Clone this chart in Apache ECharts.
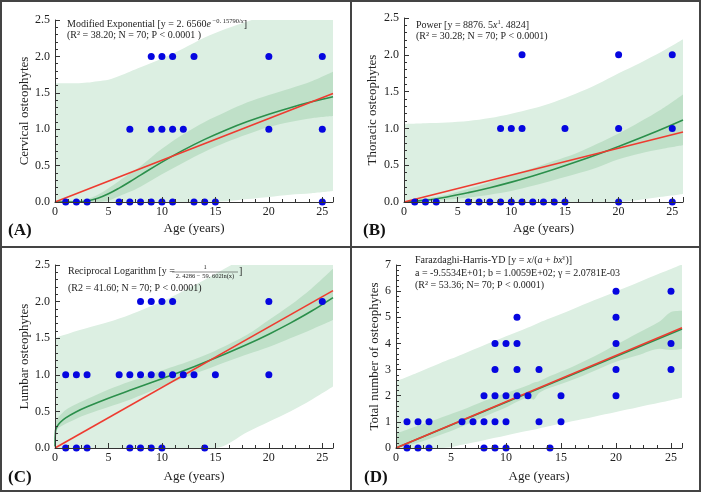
<!DOCTYPE html>
<html>
<head>
<meta charset="utf-8">
<script src="https://cdn.jsdelivr.net/npm/echarts@6/dist/echarts.min.js"></script>
<style>
  html, body { margin: 0; padding: 0; background: #fff; }
  #chart { width: 702px; height: 496px; }
</style>
</head>
<body>
<div id="chart"></div>
<script>
// ---- observed points [age, count] ----
const cervicalPts = [[1,0],[2,0],[3,0],[6,0],[7,0],[8,0],[9,0],[10,0],[11,0],[13,0],[14,0],[15,0],[25,0],
  [7,1],[9,1],[10,1],[11,1],[12,1],[20,1],[25,1],
  [9,2],[10,2],[11,2],[13,2],[20,2],[25,2]];
const thoracicPts = [[1,0],[2,0],[3,0],[6,0],[7,0],[8,0],[9,0],[10,0],[11,0],[12,0],[13,0],[14,0],[15,0],[20,0],[25,0],
  [9,1],[10,1],[11,1],[15,1],[20,1],[25,1],
  [11,2],[20,2],[25,2]];
const lumbarPts = [[1,0],[2,0],[3,0],[7,0],[8,0],[9,0],[10,0],[14,0],
  [1,1],[2,1],[3,1],[6,1],[7,1],[8,1],[9,1],[10,1],[11,1],[12,1],[13,1],[15,1],[20,1],
  [8,2],[9,2],[10,2],[11,2],[20,2],[25,2]];
const totalPts = [[1,0],[2,0],[3,0],[8,0],[9,0],[10,0],[14,0],
  [1,1],[2,1],[3,1],[6,1],[7,1],[8,1],[9,1],[10,1],[13,1],[15,1],
  [8,2],[9,2],[10,2],[11,2],[12,2],[15,2],[20,2],
  [9,3],[11,3],[13,3],[20,3],[25,3],
  [9,4],[10,4],[11,4],[20,4],[25,4],
  [11,5],[20,5],
  [20,6],[25,6]];

// ---- linear fits (red) ----
const lineX = [0, 26];
const cervLinear = [0, 1.49];
const thorLinear = [0, 0.95];
const lumbLinear = [0, 2.15];
const totLinear = [0, 4.6];

// ---- (A) cervical: modified exponential fit and bands ----
const cervX      = [0, 2, 3, 4, 5, 6, 7, 8, 10, 12, 14, 16, 18, 20, 22, 24, 26];
const cervFit    = [0, 0.001, 0.014, 0.051, 0.113, 0.191, 0.278, 0.369, 0.548, 0.712, 0.86, 0.99, 1.105, 1.206, 1.296, 1.376, 1.447];
const cervPredLo = [0, 0, 0, 0, 0, 0, 0, 0, 0, 0, 0, 0.01, 0.04, 0.07, 0.1, 0.12, 0.15];
const cervPredHi = [1.63, 1.63, 1.64, 1.66, 1.68, 1.73, 1.79, 1.85, 1.97, 2.11, 2.26, 2.38, 2.48, 2.58, 2.68, 2.76, 2.83];
const cervConfLo = [0, 0, 0, 0, 0.02, 0.08, 0.14, 0.21, 0.38, 0.54, 0.69, 0.82, 0.93, 1.03, 1.1, 1.15, 1.18];
const cervConfHi = [0.02, 0.02, 0.04, 0.1, 0.19, 0.29, 0.39, 0.49, 0.73, 0.93, 1.1, 1.24, 1.37, 1.47, 1.56, 1.66, 1.79];

// ---- (B) thoracic: power fit ----
const thorX      = [0, 2, 4, 6, 8, 10, 12, 14, 16, 18, 20, 22, 24, 26];
const thorFit    = [0, 0.025, 0.069, 0.127, 0.194, 0.27, 0.354, 0.445, 0.542, 0.645, 0.755, 0.869, 0.988, 1.114];
const thorPredLo = [0, 0, 0, 0, 0, 0, 0, 0, 0, 0, 0, 0.03, 0.07, 0.11];
const thorPredHi = [1.06, 1.07, 1.08, 1.1, 1.14, 1.2, 1.27, 1.36, 1.47, 1.6, 1.75, 1.89, 2.04, 2.21];
const thorConfLo = [0, 0.01, 0.03, 0.06, 0.1, 0.15, 0.22, 0.3, 0.38, 0.47, 0.58, 0.66, 0.72, 0.77];
const thorConfHi = [0, 0.05, 0.1, 0.18, 0.27, 0.37, 0.46, 0.56, 0.66, 0.79, 0.93, 1.09, 1.26, 1.46];

// ---- (C) lumbar: reciprocal logarithm fit ----
const lumbX      = [0, 0.05, 0.2, 0.5, 1, 2, 3, 5, 7, 10, 13, 15, 18, 20, 22, 24, 26];
const lumbFit    = [0.02, 0.237, 0.295, 0.352, 0.412, 0.496, 0.564, 0.681, 0.788, 0.947, 1.111, 1.228, 1.417, 1.555, 1.706, 1.871, 2.055];
const lumbPredLo = [0, 0, 0, 0, 0, 0, 0, 0, 0, 0, 0, 0, 0.22, 0.36, 0.5, 0.66, 0.84];
const lumbPredHi = [1.5, 1.5, 1.51, 1.53, 1.55, 1.6, 1.64, 1.72, 1.82, 2.0, 2.22, 2.38, 2.62, 2.77, 2.92, 3.07, 3.2];
const lumbConfLo = [0.05, 0.2, 0.25, 0.29, 0.33, 0.4, 0.46, 0.56, 0.66, 0.84, 1.01, 1.12, 1.28, 1.38, 1.5, 1.62, 1.75];
const lumbConfHi = [0.3, 0.35, 0.4, 0.45, 0.52, 0.6, 0.67, 0.8, 0.91, 1.06, 1.21, 1.33, 1.55, 1.75, 1.95, 2.18, 2.45];

// ---- (D) total: Farazdaghi-Harris fit ----
const totFitX    = [0, 26];
const totFit     = [0, 4.55];
const totX       = [0, 2, 4, 5, 6, 8, 10, 12, 12.5, 13, 14, 16, 18, 20, 22, 24, 25, 26];
const totPredLo  = [0, 0, 0, 0.03, 0.12, 0.3, 0.48, 0.66, 0.7, 0.75, 0.84, 1.02, 1.2, 1.38, 1.56, 1.74, 1.83, 1.92];
const totPredHi  = [2.55, 2.89, 3.24, 3.41, 3.58, 3.93, 4.27, 4.61, 4.7, 4.79, 4.96, 5.3, 5.65, 5.99, 6.33, 6.68, 6.85, 7.02];
const totConfLo  = [0, 0.2, 0.5, 0.65, 0.82, 1.2, 1.55, 1.9, 1.85, 2.1, 2.3, 2.6, 2.95, 3.3, 3.55, 3.8, 3.75, 3.8];
const totConfHi  = [0.55, 0.85, 1.15, 1.3, 1.45, 1.8, 2.1, 2.4, 2.5, 2.55, 2.75, 3.1, 3.5, 3.95, 4.4, 4.85, 5.2, 5.25];

const SERIF = '"Liberation Serif", "DejaVu Serif", serif';
const LIGHT = '#dcefe2';
const DARK = '#bfe0c8';
const RED = '#ee3b30';
const GREEN = '#2b8f4b';
const BLUE = '#0606e0';

function pairs(xs, ys) {
  return xs.map((x, i) => [x, ys[i]]);
}

function areaSeries(idx, xs, ys, color) {
  return {
    type: 'line', xAxisIndex: idx, yAxisIndex: idx,
    data: pairs(xs, ys), smooth: 0.3,
    symbol: 'none', silent: true, z: 1,
    lineStyle: { width: 0, opacity: 0 },
    areaStyle: { color: color, opacity: 1, origin: 'start' }
  };
}

function panelSeries(idx, xs, predLo, predHi, confLo, confHi, fitX, fit, linear, pts) {
  return [
    areaSeries(idx, xs, predHi, LIGHT),
    areaSeries(idx, xs, confHi, DARK),
    areaSeries(idx, xs, confLo, LIGHT),
    areaSeries(idx, xs, predLo, '#ffffff'),
    {
      type: 'line', xAxisIndex: idx, yAxisIndex: idx, data: pairs(fitX, fit),
      smooth: fitX.length > 2 ? 0.4 : false, symbol: 'none', z: 3,
      lineStyle: { color: GREEN, width: 1.6 }
    },
    {
      type: 'line', xAxisIndex: idx, yAxisIndex: idx, data: pairs(lineX, linear),
      symbol: 'none', z: 3, lineStyle: { color: RED, width: 1.6 }
    },
    {
      type: 'scatter', xAxisIndex: idx, yAxisIndex: idx, data: pts,
      symbolSize: 7, z: 4, itemStyle: { color: BLUE, opacity: 1 }
    }
  ];
}

function xAx(idx, gap) {
  return {
    gridIndex: idx, type: 'value', min: 0, max: 26, interval: 5, z: 10,
    name: 'Age (years)', nameLocation: 'middle', nameGap: gap,
    nameTextStyle: { fontFamily: SERIF, fontSize: 13, color: '#222' },
    axisLine: { show: true, onZero: false, lineStyle: { color: '#333', width: 1 } },
    axisTick: { show: true, inside: true, length: 5, lineStyle: { color: '#333' } },
    minorTick: { show: true, splitNumber: 4, length: 3, lineStyle: { color: '#333' } },
    axisLabel: {
      fontFamily: SERIF, fontSize: 12, color: '#222', margin: 4,
      formatter: v => (v % 5 === 0 ? String(v) : '')
    },
    splitLine: { show: false }
  };
}

function yAx(idx, name, max, interval, gap, decimals) {
  return {
    gridIndex: idx, type: 'value', min: 0, max: max, interval: interval, z: 10,
    name: name, nameLocation: 'middle', nameGap: gap,
    nameTextStyle: { fontFamily: SERIF, fontSize: 13, color: '#222' },
    axisLine: { show: true, onZero: false, lineStyle: { color: '#333', width: 1 } },
    axisTick: { show: true, inside: true, length: 5, lineStyle: { color: '#333' } },
    minorTick: { show: true, splitNumber: 5, length: 3, lineStyle: { color: '#333' } },
    axisLabel: {
      fontFamily: SERIF, fontSize: 12, color: '#222', margin: 5,
      formatter: v => v.toFixed(decimals)
    },
    splitLine: { show: false }
  };
}

const richBase = {
  n: { fontFamily: SERIF, fontSize: 10, color: '#222', lineHeight: 12 },
  i: { fontFamily: SERIF, fontSize: 10, fontStyle: 'italic', color: '#222', lineHeight: 12 },
  s: { fontFamily: SERIF, fontSize: 6.5, color: '#222', verticalAlign: 'top', lineHeight: 12 },
  si: { fontFamily: SERIF, fontSize: 6.5, fontStyle: 'italic', color: '#222', verticalAlign: 'top', lineHeight: 12 }
};

function note(x, y, text) {
  return {
    type: 'text', x: x, y: y, z: 20,
    style: { text: text, rich: richBase, fontFamily: SERIF, fontSize: 10, fill: '#222', verticalAlign: 'middle' }
  };
}

function panelLabel(x, y, text) {
  return {
    type: 'text', x: x, y: y, z: 20,
    style: { text: text, fontFamily: SERIF, fontSize: 17, fontWeight: 'bold', fill: '#111', verticalAlign: 'middle' }
  };
}

const chart = echarts.init(document.getElementById('chart'), null, { renderer: 'canvas' });

const option = {
  animation: false,
  backgroundColor: '#fff',
  grid: [
    { left: 55, top: 20, width: 278, height: 182 },
    { left: 404, top: 18, width: 279, height: 184 },
    { left: 55, top: 265, width: 278, height: 183 },
    { left: 396, top: 265, width: 286, height: 183 }
  ],
  xAxis: [xAx(0, 20), xAx(1, 20), xAx(2, 22), xAx(3, 22)],
  yAxis: [
    yAx(0, 'Cervical osteophytes', 2.5, 0.5, 24, 1),
    yAx(1, 'Thoracic osteophytes', 2.5, 0.5, 25, 1),
    yAx(2, 'Lumbar osteophytes', 2.5, 0.5, 24, 1),
    yAx(3, 'Total number of osteophytes', 7, 1, 14, 0)
  ],
  series: [].concat(
    panelSeries(0, cervX, cervPredLo, cervPredHi, cervConfLo, cervConfHi, cervX, cervFit, cervLinear, cervicalPts),
    panelSeries(1, thorX, thorPredLo, thorPredHi, thorConfLo, thorConfHi, thorX, thorFit, thorLinear, thoracicPts),
    panelSeries(2, lumbX, lumbPredLo, lumbPredHi, lumbConfLo, lumbConfHi, lumbX, lumbFit, lumbLinear, lumbarPts),
    panelSeries(3, totX, totPredLo, totPredHi, totConfLo, totConfHi, totFitX, totFit, totLinear, totalPts)
  ),
  graphic: [
    // frame and dividers
    { type: 'rect', z: 30, shape: { x: 1, y: 1, width: 699, height: 490 }, style: { fill: 'none', stroke: '#444', lineWidth: 2 } },
    { type: 'line', z: 30, shape: { x1: 351, y1: 1, x2: 351, y2: 491 }, style: { stroke: '#444', lineWidth: 2 } },
    { type: 'line', z: 30, shape: { x1: 1, y1: 247, x2: 700, y2: 247 }, style: { stroke: '#444', lineWidth: 2 } },
    // panel letters
    panelLabel(8, 231, '(A)'),
    panelLabel(363, 231, '(B)'),
    panelLabel(8, 478, '(C)'),
    panelLabel(364, 478, '(D)'),
    // equations
    note(67, 24, '{n|Modified Exponential [y = 2. 6560}{i|e}{s| −0. 15790/}{si|x}{n|]}'),
    note(67, 35, '(R² = 38.20; N = 70; P < 0.0001 )'),
    note(416, 25, '{n|Power [y = 8876. 5}{i|x}{s|1}{n|. 4824]}'),
    note(416, 36, '(R² = 30.28; N = 70; P < 0.0001)'),
    note(68, 271, 'Reciprocal Logarithm [y = '),
    {
      type: 'text', x: 205, y: 267.5, z: 20,
      style: { text: '1', fontFamily: SERIF, fontSize: 6.5, fill: '#222', align: 'center', verticalAlign: 'middle' }
    },
    { type: 'line', z: 20, shape: { x1: 172, y1: 272, x2: 238, y2: 272 }, style: { stroke: '#444', lineWidth: 0.6 } },
    {
      type: 'text', x: 205, y: 276.5, z: 20,
      style: { text: '2. 4286 − 59. 602ln(x)', fontFamily: SERIF, fontSize: 6.5, fill: '#222', align: 'center', verticalAlign: 'middle' }
    },
    note(239, 271, ']'),
    note(68, 288, '(R2 = 41.60; N = 70; P < 0.0001)'),
    note(415, 260, '{n|Farazdaghi-Harris-YD [y = }{i|x}{n|/(}{i|a}{n| + }{i|bx}{s|γ}{n|)]}'),
    note(415, 273, 'a = -9.5534E+01; b = 1.0059E+02; γ = 2.0781E-03'),
    note(415, 285, '(R² = 53.36; N= 70; P < 0.0001)')
  ]
};

chart.setOption(option);
</script>
</body>
</html>
